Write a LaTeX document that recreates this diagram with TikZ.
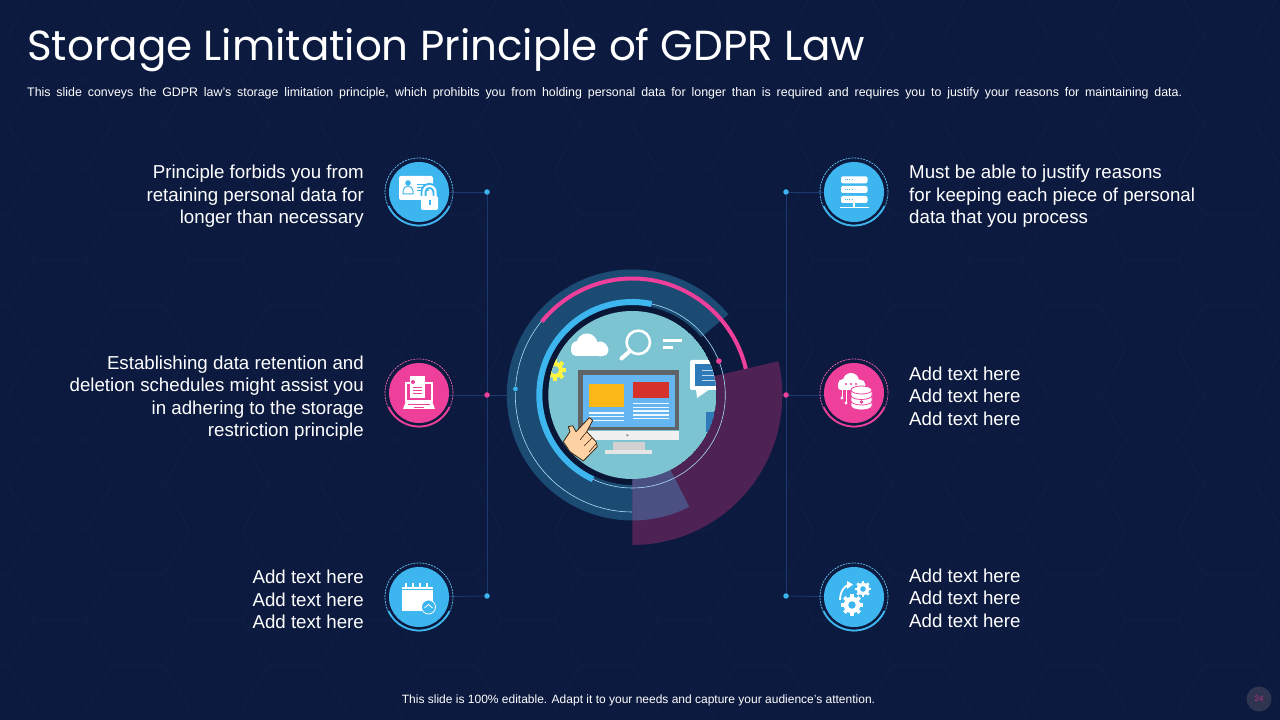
\documentclass[tikz,border=0pt]{standalone}
\usepackage{fontspec}
\setmainfont{Liberation Sans}
\newfontfamily\titlefont{Poppins}
\usetikzlibrary{calc,positioning}
\definecolor{pagebg}{HTML}{0C1A3F}
\definecolor{hexline}{HTML}{101F47}
\definecolor{wireblue}{HTML}{1B3872}
\definecolor{skyblue}{HTML}{3DB5EE}
\definecolor{hotpink}{HTML}{EE3F9B}
\definecolor{ringblue}{HTML}{1B4A73}
\definecolor{plum}{HTML}{4F2255}
\definecolor{overlap}{HTML}{4A5082}
\definecolor{screenteal}{HTML}{7CC4D2}
\definecolor{deepblue}{HTML}{2F7AB8}
\definecolor{frame}{HTML}{5F6468}
\definecolor{screenblue}{HTML}{64B5F0}
\definecolor{panelyellow}{HTML}{FBB817}
\definecolor{panelred}{HTML}{D5322C}
\definecolor{pagedisc}{HTML}{2F3450}
\pgfdeclarelayer{wirelayer}
\pgfsetlayers{wirelayer,main}
\tikzset{
  bodytext/.style={inner sep=0pt, text=white, font=\fontsize{18.7}{22.5}\selectfont},
  wire/.style={draw=wireblue, line width=0.8pt},
  linedot/.style={circle, inner sep=0pt, minimum size=5.5pt},
  iconbase/.style={circle, inner sep=0pt, minimum size=60pt},
}
% sector between two radii, centred on (hub)
\newcommand{\ringpart}[5]{\fill[#1] ($(hub)+(#2:#4)$) arc[start angle=#2, end angle=#3, radius=#4] -- ($(hub)+(#3:#5)$) arc[start angle=#3, end angle=#2, radius=#5] -- cycle;}
% dashed ring and bottom arc of one icon
\newcommand{\iconring}[2]{
  \draw[#2!80!white, line width=0.7pt, dash pattern=on 2pt off 1pt] (#1) circle[radius=34];
  \draw[#2, line width=1.8pt] ($(#1)+(205:33.5)$) arc[start angle=205, end angle=335, radius=33.5];
}
\newcommand{\gearshape}[4]{
  \foreach \a in {0,45,...,315}
    \fill[white, shift={(#1,#2)}, rotate=\a] (-0.22*#3,0) rectangle (0.22*#3,1.3*#3);
  \fill[white] (#1,#2) circle[radius=#3];
  \fill[#4] (#1,#2) circle[radius=0.45*#3];
}
\begin{document}
\begin{tikzpicture}[x=1pt, y=1pt]
  \useasboundingbox (0,0) rectangle (1280,720);
  \begin{pgfonlayer}{wirelayer}
  \fill[pagebg] (0,0) rectangle (1280,720);
  % hexagon backdrop
  \foreach \i in {0,...,17}
  \foreach \j in {0,...,8}
  {
  \draw[hexline, line width=0.8pt, shift={({\i*78-18},{\j*90+mod(\i,2)*45+10})}]
    (52,0) -- (26,45) -- (-26,45) -- (-52,0) -- (-26,-45) -- (26,-45) -- cycle;
  }
  \end{pgfonlayer}

  \node[inner sep=0pt, anchor=west, text=white, font=\fontsize{42}{46}\titlefont] (title) at (27,669.5) {Storage Limitation Principle of GDPR Law};
  \node[inner sep=0pt, anchor=west, text=white, font=\fontsize{12.4}{14}\selectfont] (subtitle) at (27,626.5)
    {\makebox[1155pt][s]{This slide conveys the GDPR law's storage limitation principle, which prohibits you from holding personal data for longer than is required and requires you to justify your reasons for maintaining data.}};
  \node[inner sep=0pt, text=white, font=\fontsize{12}{14}\selectfont] (footer) at (638.5,19.5) {This slide is 100\% editable. Adapt it to your needs and capture your audience's attention.};

  \fill[pagedisc] (1259,21) circle[radius=12.5];
  \node[inner sep=0pt, text=hotpink!80!black, font=\fontsize{8}{9}\selectfont] (pagenum) at (1259,21) {24};

  % icons and end dots
  \node[iconbase, fill=skyblue] (iconla) at (419,528) {};
  \node[iconbase, fill=hotpink] (iconlb) at (419,327) {};
  \node[iconbase, fill=skyblue] (iconlc) at (419,123) {};
  \node[iconbase, fill=skyblue] (iconra) at (854,528) {};
  \node[iconbase, fill=hotpink] (iconrb) at (854,327) {};
  \node[iconbase, fill=skyblue] (iconrc) at (854,123) {};
  \coordinate (hub) at (632.3,325);
  \node[linedot, fill=skyblue] (dotla) at (487,528) {};
  \node[linedot, fill=hotpink] (dotlb) at (487,325) {};
  \node[linedot, fill=skyblue] (dotlc) at (487,124) {};
  \node[linedot, fill=skyblue] (dotra) at (786,528) {};
  \node[linedot, fill=hotpink] (dotrb) at (786,325) {};
  \node[linedot, fill=skyblue] (dotrc) at (786,124) {};

  % wires
  \begin{pgfonlayer}{wirelayer}
  \draw[wire] (dotla) -- (dotlc);
  \draw[wire] (dotra) -- (dotrc);
  \draw[wire] (iconla) -- (dotla);
  \draw[wire] (iconlc) -- (dotlc);
  \draw[wire] (iconra) -- (dotra);
  \draw[wire] (iconrc) -- (dotrc);
  \draw[wire] (iconlb.east |- dotlb) -- (dotlb) -- (dotrb) -- (iconrb.west |- dotrb);
  \end{pgfonlayer}

  % centre rings
  \fill[pagebg!85!black] (hub) circle[radius=90];
  \ringpart{ringblue}{40}{297}{125.5}{90}
  \ringpart{plum}{-90}{13}{150}{84}
  \ringpart{overlap}{-90}{-63}{125.5}{84}
  \draw[white!55!skyblue, line width=0.6pt] (hub) circle[radius=93];
  \draw[white!55!skyblue, line width=0.6pt] ($(hub)+(141:117)$) arc[start angle=141, end angle=270, radius=117];
  \ringpart{skyblue}{78}{245}{96}{90}
  \ringpart{hotpink}{13}{141}{118.5}{114.5}
  \fill[hotpink] ($(hub)+(21.4:93)$) circle[radius=2.8];
  \node[linedot, fill=skyblue, draw=ringblue, line width=0.4pt] (dothub) at ($(hub)+(177:117)$) {};

  % screen picture
  \begin{scope}
  \clip (hub) circle[radius=84];
  \fill[screenteal] (hub) circle[radius=84];
  % gear
  \foreach \a in {0,45,...,315}
    \fill[yellow!75!white, shift={(555,350)}, rotate=\a] (-2,0) rectangle (2,11);
  \fill[yellow!75!white] (555,350) circle[radius=8];
  \fill[screenteal] (555,350) circle[radius=4];
  % cloud
  \fill[white, rounded corners=5pt] (571,364) rectangle (608.3,376);
  \fill[white] (587,376) circle[radius=10.5];
  \fill[white] (578,372) circle[radius=7];
  \fill[white] (600,371) circle[radius=7.5];
  % magnifier
  \draw[white, line width=2.6pt] (638.3,377.7) circle[radius=11.7];
  \draw[white, line width=4pt, line cap=round] (630,369) -- (621.5,361.5);
  \draw[white, line width=3pt] (663.3,379) -- (681.7,379);
  \draw[white, line width=3pt] (663.3,372) -- (672.7,372);
  % small bubble and box
  \fill[white, rounded corners=2pt] (690,360) rectangle (720,330);
  \fill[white] (696,331) -- (710,331) -- (697,322) -- cycle;
  \fill[deepblue] (695,356) rectangle (720,334);
  \foreach \y in {350,345,340}
    \draw[white!70!deepblue, line width=0.7pt] (702,\y) -- (720,\y);
  \fill[deepblue] (706,308) rectangle (720,288);
  % monitor
  \fill[frame] (578.3,350) rectangle (679,290);
  \fill[screenblue] (582.7,345) rectangle (675,293.3);
  \fill[panelyellow] (589,336.3) rectangle (624.3,313);
  \fill[panelred] (633,338.3) rectangle (669,321.7);
  \foreach \y in {307,303.5,299.5}
    \draw[white!90!skyblue, line width=1.1pt] (589,\y) -- (624.3,\y);
  \foreach \y in {316.5,312.5,309,305,301.5}
    \draw[white!90!skyblue, line width=1.1pt] (633,\y) -- (669,\y);
  \fill[black!6] (579.3,289.3) rectangle (679,280);
  \fill[black!35] (627.3,284.8) circle[radius=1.5];
  \fill[black!18] (612.7,278.3) rectangle (645,270);
  \fill[black!10] (605,270) rectangle (652.3,266);
  % hand
  \draw[fill=orange!35!white, draw=black!70!brown, line width=0.8pt, line join=round]
    (589.3,302.3) -- (592.7,299.7) -- (586.7,288.3) -- (596,278.3) -- (597.3,273.3) -- (583.3,259) -- (570,268.3) -- (563.3,278.3) -- (570,288.3) -- (568.3,293.3) -- (572.7,294.3) -- (576,288.3) -- cycle;
  \draw[black!70!brown, line width=0.6pt] (586.7,288.3) -- (580,280);
  \draw[black!70!brown, line width=0.6pt] (592,282) -- (584,274);
  \draw[black!70!brown, line width=0.6pt] (596,276) -- (589,268);
  \end{scope}

  % icon rings
  \iconring{iconla}{skyblue}
  \iconring{iconlb}{hotpink}
  \iconring{iconlc}{skyblue}
  \iconring{iconra}{skyblue}
  \iconring{iconrb}{hotpink}
  \iconring{iconrc}{skyblue}

  % id card and lock
  \begin{scope}[shift={(iconla)}]
  \fill[white, rounded corners=2pt] (-20,16) rectangle (14,-8);
  \fill[skyblue] (-11,9) circle[radius=2.8];
  \draw[skyblue, line width=1pt] (-16,-2) -- (-16,1) arc[start angle=180, end angle=0, radius=5] -- (-6,-2) -- cycle;
  \foreach \y in {8,5,2}
    \draw[skyblue, line width=0.8pt] (-2,\y) -- (10,\y);
  \draw[skyblue, line width=6pt] (4.5,-4) -- (4.5,0) arc[start angle=180, end angle=0, radius=6] -- (16.5,-4);
  \draw[white, line width=2.2pt] (4.5,-4) -- (4.5,0) arc[start angle=180, end angle=0, radius=6] -- (16.5,-4);
  \fill[white, rounded corners=2pt] (2,-4) rectangle (19,-18);
  \fill[skyblue] (9.5,-13.5) rectangle (11.5,-8);
  \end{scope}

  % laptop and sheet
  \begin{scope}[shift={(iconlb)}]
  \draw[white, line width=1.2pt] (-13,10) rectangle (13,-8);
  \fill[white] (-9,17) rectangle (6,-5);
  \fill[hotpink] (-6,11) circle[radius=2];
  \foreach \y in {6,3,0}
    \draw[hotpink, line width=0.8pt] (-6,\y) -- (3,\y);
  \fill[white] (-13,-8) -- (13,-8) -- (16,-16) -- (-16,-16) -- cycle;
  \draw[hotpink, line width=0.6pt] (-11,-11) -- (11,-11);
  \draw[hotpink, line width=0.6pt] (-5,-14) -- (5,-14);
  \end{scope}

  % calendar
  \begin{scope}[shift={(iconlc)}]
  \fill[white] (-17,10) rectangle (14,-14);
  \foreach \x in {-13,-6,1,8}
    \draw[white, line width=1.5pt] (\x,10) -- (\x,14);
  \draw[skyblue, line width=0.7pt] (-17,8) -- (14,8);
  \fill[skyblue, draw=white, line width=0.8pt] (9.5,-10) circle[radius=7];
  \draw[white, line width=0.8pt] (5.5,-11) -- (9.5,-7.5) -- (13.5,-11);
  \end{scope}

  % server rack
  \begin{scope}[shift={(iconra)}]
  \foreach \y in {15.7,6,-4}
  {
  \fill[white, rounded corners=2pt] (-13,\y) rectangle (13.5,\y-7);
  \draw[skyblue, line width=1pt, dash pattern=on 1pt off 1.2pt] (-9,\y-3.5) -- (-1,\y-3.5);
  }
  \draw[white, line width=1.2pt] (0,-11) -- (0,-15.5);
  \draw[white, line width=1.2pt] (-14,-15.5) -- (15,-15.5);
  \end{scope}

  % cloud and database
  \begin{scope}[shift={(iconrb)}]
  \fill[white, rounded corners=3pt] (-16,3) rectangle (11,10);
  \fill[white] (-3,12) circle[radius=8];
  \fill[white] (-11,9) circle[radius=5];
  \fill[white] (6,8) circle[radius=5.5];
  \foreach \x in {-8,-3,2}
    \fill[hotpink] (\x,9) circle[radius=1.2];
  \draw[white, line width=1pt] (-12,3) -- (-12,-4);
  \draw[white, line width=1pt] (-8,3) -- (-8,-9);
  \fill[white] (-12,-5) circle[radius=1.6];
  \fill[white] (-8,-10) circle[radius=1.6];
  \fill[white, draw=hotpink, line width=0.8pt] (-3,-13) -- (-3,3) arc[start angle=180, end angle=0, x radius=10.5, y radius=4] -- (18,-13) arc[start angle=0, end angle=-180, x radius=10.5, y radius=4] -- cycle;
  \draw[hotpink, line width=0.8pt] (-3,3) arc[start angle=180, end angle=360, x radius=10.5, y radius=4];
  \draw[hotpink, line width=0.8pt] (-3,-2.5) arc[start angle=180, end angle=360, x radius=10.5, y radius=4];
  \draw[hotpink, line width=0.8pt] (-3,-8) arc[start angle=180, end angle=360, x radius=10.5, y radius=4];
  \fill[hotpink] (7.5,-9) circle[radius=1.8];
  \end{scope}

  % gears
  \begin{scope}[shift={(iconrc)}]
  \gearshape{-2}{-8}{8.3}{skyblue}
  \gearshape{9}{8}{6.2}{skyblue}
  \draw[white, line width=1.8pt] (-14,-3) .. controls (-14,6) and (-9,11) .. (-6,12);
  \fill[white] (-7,16) -- (-1,12.5) -- (-7,8) -- cycle;
  \end{scope}

  % captions
  \node[bodytext, anchor=east, align=right] (textla) at (364,523.5) {Principle forbids you from\\retaining personal data for\\longer than necessary};
  \node[bodytext, anchor=east, align=right] (textlb) at (364,322) {Establishing data retention and\\deletion schedules might assist you\\in adhering to the storage\\restriction principle};
  \node[bodytext, anchor=east, align=right] (textlc) at (364,120.5) {Add text here\\Add text here\\Add text here};
  \node[bodytext, anchor=west, align=left] (textra) at (909,523.5) {Must be able to justify reasons\\for keeping each piece of personal\\data that you process};
  \node[bodytext, anchor=west, align=left] (textrb) at (909,324) {Add text here\\Add text here\\Add text here};
  \node[bodytext, anchor=west, align=left] (textrc) at (909,122) {Add text here\\Add text here\\Add text here};
\end{tikzpicture}
\end{document}
